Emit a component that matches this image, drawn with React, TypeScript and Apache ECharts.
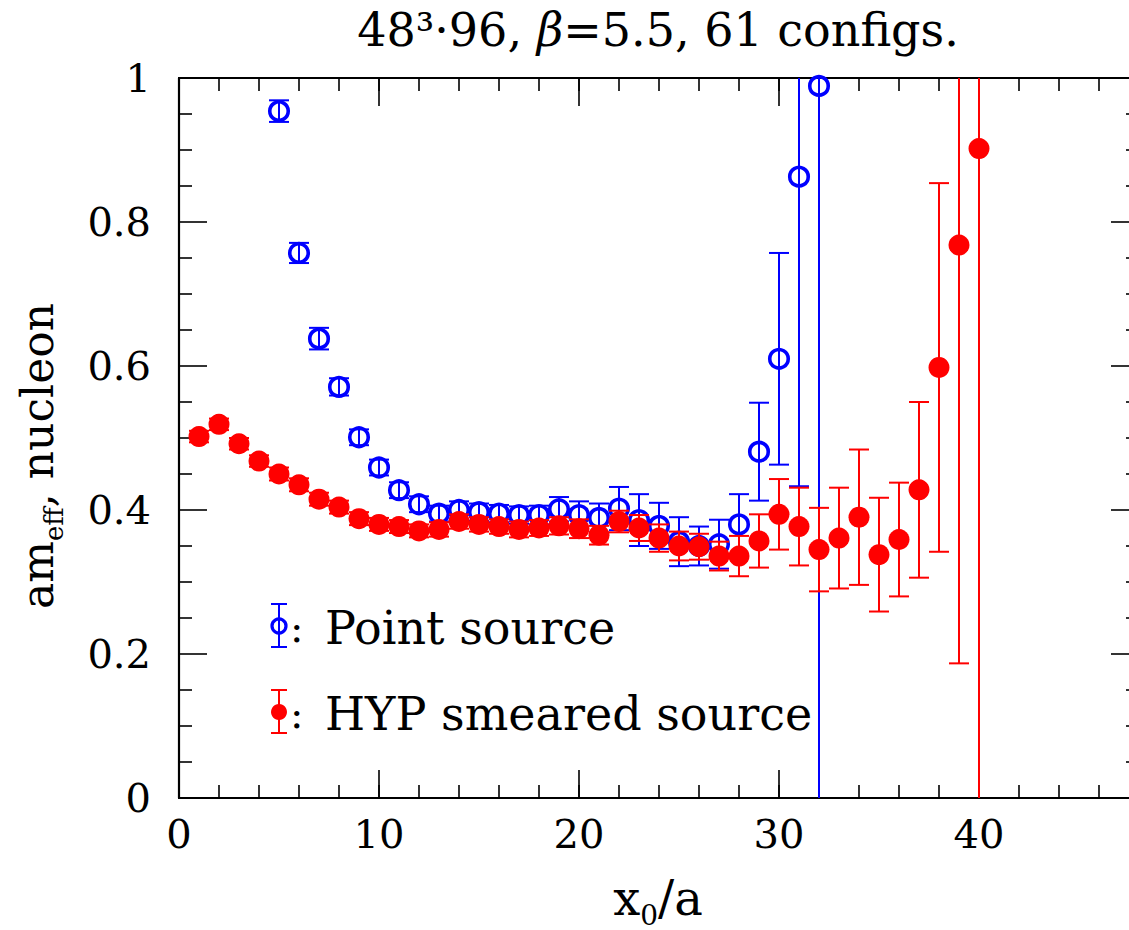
import React, { useEffect, useRef } from "react";
import * as echarts from "echarts";

// ---- data ----
const redT = [1, 2, 3, 4, 5, 6, 7, 8, 9, 10, 11, 12, 13, 14, 15, 16, 17, 18, 19, 20, 21, 22, 23, 24, 25, 26, 27, 28, 29, 30, 31, 32, 33, 34, 35, 36, 37, 38, 39, 40];
const redVal = [0.502, 0.519, 0.492, 0.468, 0.45, 0.435, 0.415, 0.404, 0.388, 0.38, 0.377, 0.371, 0.373, 0.384, 0.38, 0.377, 0.373, 0.375, 0.378, 0.374, 0.365, 0.384, 0.375, 0.361, 0.35, 0.349, 0.336, 0.336, 0.357, 0.394, 0.377, 0.345, 0.361, 0.39, 0.338, 0.359, 0.428, 0.598, 0.768, 0.902];
const redErr = [0.008, 0.008, 0.008, 0.008, 0.009, 0.009, 0.009, 0.009, 0.009, 0.009, 0.009, 0.009, 0.01, 0.01, 0.01, 0.01, 0.011, 0.011, 0.012, 0.013, 0.013, 0.015, 0.018, 0.019, 0.02, 0.018, 0.02, 0.028, 0.037, 0.049, 0.054, 0.058, 0.07, 0.094, 0.079, 0.079, 0.122, 0.256, 0.581, 1.2];

const blueT = [5, 6, 7, 8, 9, 10, 11, 12, 13, 14, 15, 16, 17, 18, 19, 20, 21, 22, 23, 24, 25, 26, 27, 28, 29, 30, 31, 32];
const blueVal = [0.954, 0.757, 0.638, 0.571, 0.501, 0.459, 0.4275, 0.408, 0.395, 0.4, 0.397, 0.395, 0.393, 0.393, 0.401, 0.393, 0.389, 0.402, 0.386, 0.378, 0.356, 0.35, 0.3525, 0.38, 0.481, 0.61, 0.863, 0.989];
const blueErr = [0.015, 0.014, 0.015, 0.012, 0.011, 0.011, 0.011, 0.011, 0.011, 0.012, 0.012, 0.012, 0.012, 0.013, 0.017, 0.019, 0.02, 0.03, 0.036, 0.032, 0.034, 0.027, 0.034, 0.042, 0.068, 0.147, 0.43, 1.5];

const X_MIN = 0, X_MAX = 48, Y_MIN = 0, Y_MAX = 1;
const RED = "#ff0000";
const BLUE = "#0000ff";
const FONT = "'DejaVu Serif', serif";

function errRender(color: string) {
  return (params: any, api: any) => {
    const x = api.value(0);
    const lo = api.value(1);
    const hi = api.value(2);
    const cl = Math.max(lo, Y_MIN);
    const ch = Math.min(hi, Y_MAX);
    const pLo = api.coord([x, cl]);
    const pHi = api.coord([x, ch]);
    const hw = 10;
    const st = { stroke: color, lineWidth: 2 };
    const children: any[] = [
      { type: "line", shape: { x1: pLo[0], y1: pLo[1], x2: pHi[0], y2: pHi[1] }, style: st },
    ];
    if (lo >= Y_MIN) children.push({ type: "line", shape: { x1: pLo[0] - hw, y1: pLo[1], x2: pLo[0] + hw, y2: pLo[1] }, style: st });
    if (hi <= Y_MAX) children.push({ type: "line", shape: { x1: pHi[0] - hw, y1: pHi[1], x2: pHi[0] + hw, y2: pHi[1] }, style: st });
    return { type: "group", children };
  };
}

const tickStyle = { color: "#000", width: 1.6 };
const lineStyle = { color: "#000", width: 2.2 };

function xAxisDef(position: "bottom" | "top", interval: number, len: number, labels: boolean) {
  return {
    type: "value",
    position,
    min: X_MIN,
    max: X_MAX,
    interval,
    axisLine: { show: true, onZero: false, lineStyle },
    axisTick: { show: true, inside: true, length: len, lineStyle: tickStyle },
    splitLine: { show: false },
    axisLabel: labels
      ? { show: true, showMaxLabel: false, margin: 16, color: "#000", fontFamily: FONT, fontSize: 40 }
      : { show: false },
  };
}

function yAxisDef(position: "left" | "right", labels: boolean) {
  return {
    type: "value",
    position,
    min: Y_MIN,
    max: Y_MAX,
    interval: 0.2,
    axisLine: { show: true, onZero: false, lineStyle },
    axisTick: { show: true, inside: true, length: 28, lineStyle: tickStyle },
    minorTick: { show: true, splitNumber: 4, length: 13, lineStyle: tickStyle },
    splitLine: { show: false },
    minorSplitLine: { show: false },
    axisLabel: labels
      ? { show: true, margin: 28, color: "#000", fontFamily: FONT, fontSize: 40, formatter: (v: number) => (v === 0 ? "0" : v === 1 ? "1" : v.toFixed(1)) }
      : { show: false },
  };
}

export default function App() {
  const ref = useRef<HTMLDivElement>(null);
  useEffect(() => {
    if (!ref.current) return;
    const chart = echarts.init(ref.current, null, { renderer: "svg" });
    const redErrData = redT.map((t, i) => [t, redVal[i] - redErr[i], redVal[i] + redErr[i]]);
    const blueErrData = blueT.map((t, i) => [t, blueVal[i] - blueErr[i], blueVal[i] + blueErr[i]]);
    const legX = 279;
    const option: any = {
      animation: false,
      backgroundColor: "#fff",
      grid: { left: 179, top: 78, width: 960, height: 720, containLabel: false },
      xAxis: [
        xAxisDef("bottom", 2, 13, false),
        xAxisDef("bottom", 10, 28, true),
        xAxisDef("top", 2, 13, false),
        xAxisDef("top", 10, 28, false),
      ],
      yAxis: [yAxisDef("left", true), yAxisDef("right", false)],
      series: [
        {
          type: "custom",
          xAxisIndex: 0,
          yAxisIndex: 0,
          renderItem: errRender(BLUE),
          encode: { x: 0, y: [1, 2] },
          data: blueErrData,
          z: 2,
        },
        {
          type: "scatter",
          xAxisIndex: 0,
          yAxisIndex: 0,
          symbol: "circle",
          symbolSize: 18.5,
          itemStyle: { color: "rgba(0,0,0,0)", borderColor: BLUE, borderWidth: 3.6, opacity: 1 },
          emphasis: { disabled: true },
          data: blueT.map((t, i) => [t, blueVal[i]]),
          z: 3,
        },
        {
          type: "custom",
          xAxisIndex: 0,
          yAxisIndex: 0,
          renderItem: errRender(RED),
          encode: { x: 0, y: [1, 2] },
          data: redErrData,
          z: 4,
        },
        {
          type: "scatter",
          xAxisIndex: 0,
          yAxisIndex: 0,
          symbol: "circle",
          symbolSize: 21,
          itemStyle: { color: RED, opacity: 1 },
          emphasis: { disabled: true },
          data: redT.map((t, i) => [t, redVal[i]]),
          z: 5,
        },
      ],
      graphic: [
        {
          type: "text",
          x: 658,
          y: 30,
          style: {
            text: "48³·96, {it|β}=5.5, 61 configs.",
            fill: "#000",
            fontFamily: FONT,
            fontSize: 46,
            align: "center",
            verticalAlign: "middle",
            rich: { it: { fontStyle: "italic", fontFamily: FONT, fontSize: 46, fill: "#000" } },
          },
        },
        {
          type: "text",
          x: 658,
          y: 898,
          style: {
            text: "x{sub|0}/a",
            fill: "#000",
            fontFamily: FONT,
            fontSize: 48,
            align: "center",
            verticalAlign: "middle",
            rich: { sub: { fontFamily: FONT, fontSize: 28, verticalAlign: "bottom", lineHeight: 62, fill: "#000" } },
          },
        },
        {
          type: "text",
          x: 37,
          y: 456,
          rotation: Math.PI / 2,
          style: {
            text: "am{sub|eff}, nucleon",
            fill: "#000",
            fontFamily: FONT,
            fontSize: 44,
            align: "center",
            verticalAlign: "middle",
            rich: { sub: { fontFamily: FONT, fontSize: 26, verticalAlign: "bottom", lineHeight: 60, fill: "#000" } },
          },
        },
        // legend: point source
        { type: "line", shape: { x1: legX, y1: 604, x2: legX, y2: 647 }, style: { stroke: BLUE, lineWidth: 2 } },
        { type: "line", shape: { x1: legX - 8, y1: 604, x2: legX + 8, y2: 604 }, style: { stroke: BLUE, lineWidth: 2 } },
        { type: "line", shape: { x1: legX - 8, y1: 647, x2: legX + 8, y2: 647 }, style: { stroke: BLUE, lineWidth: 2 } },
        { type: "circle", shape: { cx: legX, cy: 626, r: 7 }, style: { fill: "none", stroke: BLUE, lineWidth: 3.2 } },
        { type: "text", x: 290, y: 628, style: { text: ":", fill: "#000", fontFamily: FONT, fontSize: 40, verticalAlign: "middle" } },
        { type: "text", x: 325, y: 628, style: { text: "Point source", fill: "#000", fontFamily: FONT, fontSize: 46, verticalAlign: "middle" } },
        // legend: HYP smeared source
        { type: "line", shape: { x1: legX, y1: 690, x2: legX, y2: 733 }, style: { stroke: RED, lineWidth: 2 } },
        { type: "line", shape: { x1: legX - 8, y1: 690, x2: legX + 8, y2: 690 }, style: { stroke: RED, lineWidth: 2 } },
        { type: "line", shape: { x1: legX - 8, y1: 733, x2: legX + 8, y2: 733 }, style: { stroke: RED, lineWidth: 2 } },
        { type: "circle", shape: { cx: legX, cy: 712, r: 8 }, style: { fill: RED, stroke: "none" } },
        { type: "text", x: 290, y: 714, style: { text: ":", fill: "#000", fontFamily: FONT, fontSize: 40, verticalAlign: "middle" } },
        { type: "text", x: 325, y: 714, style: { text: "HYP smeared source", fill: "#000", fontFamily: FONT, fontSize: 46, verticalAlign: "middle" } },
      ],
    };
    chart.setOption(option);
    return () => chart.dispose();
  }, []);
  return (
    <div style={{ position: "fixed", left: 0, top: 0, width: 1129, height: 930, overflow: "hidden", background: "#fff" }}>
      <div ref={ref} style={{ width: 1180, height: 930 }} />
    </div>
  );
}
